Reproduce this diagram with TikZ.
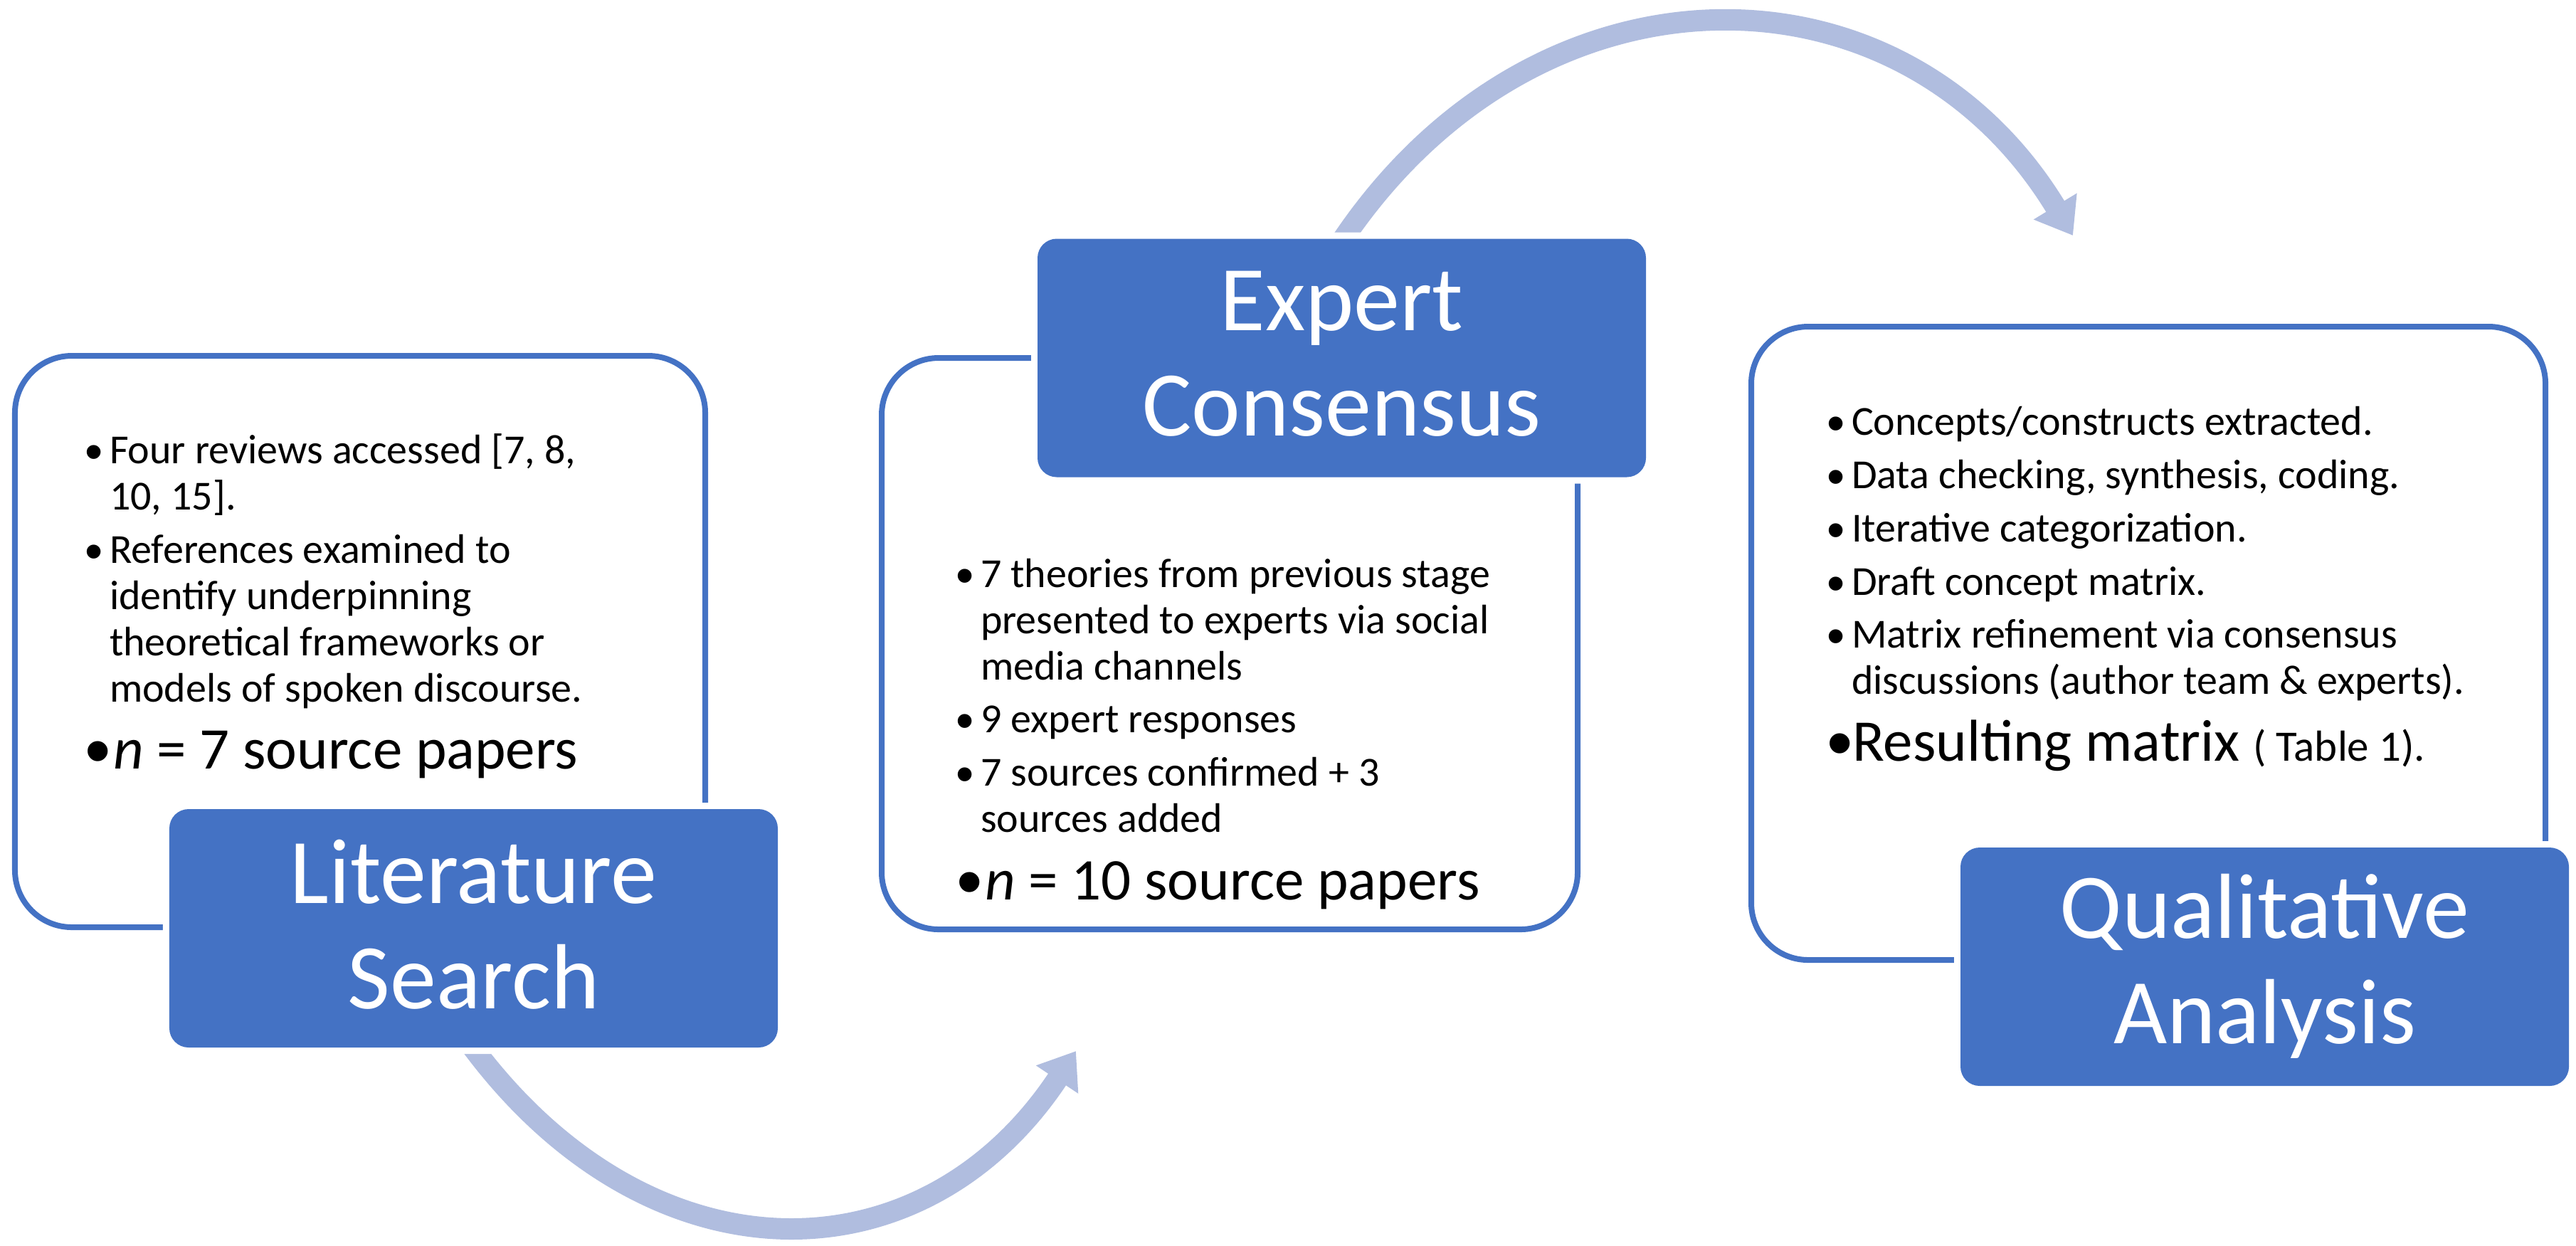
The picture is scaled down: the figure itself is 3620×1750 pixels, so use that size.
\documentclass[tikz,border=0pt]{standalone}
\usepackage{fontspec}
\setmainfont{Carlito}
\newfontfamily\bulletfont{Liberation Sans}
\usetikzlibrary{arrows.meta}
\definecolor{accblue}{RGB}{68,114,196}
\definecolor{arcblue}{RGB}{176,189,223}
\newcommand\lstack[2]{\vtop{\baselineskip=#1\lineskiplimit=-1000pt\lineskip=0pt\halign{##\hfil\cr#2\crcr}}}
\newcommand\cstack[2]{\vtop{\baselineskip=#1\lineskiplimit=-1000pt\lineskip=0pt\halign{\hfil##\hfil\cr#2\crcr}}}
\newcommand\bodyfont{\fontsize{11.6pt}{13pt}\selectfont}
\newcommand\bigfont{\fontsize{16.6pt}{20pt}\selectfont}
\newcommand\titlefont{\fontsize{26pt}{29.6pt}\selectfont}
\newcommand\smallbul{\raisebox{-1.7pt}{\bulletfont\fontsize{14.4pt}{15pt}\selectfont •}}
\newcommand\bigbul[1]{\makebox[#1][l]{\raisebox{-2pt}{\bulletfont\fontsize{20.8pt}{22pt}\selectfont •}}}
\newcommand\bul[1]{\hbox{\makebox[7pt][l]{\smallbul}\lstack{13pt}{#1}}}
\tikzset{
  panel/.style={draw=accblue, fill=white, line width=1.6pt, rounded corners=16pt, inner sep=0pt},
  stagebox/.style={fill=accblue, rounded corners=5.4pt, inner sep=0pt,
    minimum width=171pt, minimum height=67pt,
    preaction={draw=white, line width=3.6pt}},
  flowarc/.style={draw=arcblue, line width=6pt, -{Triangle[width=13.6pt,length=9.6pt]}},
  txt/.style={anchor=base west, inner sep=0pt, text=black},
  ttl/.style={anchor=base, inner sep=0pt, text=white},
}
\begin{document}
\begin{tikzpicture}[x=0.2pt,y=-0.2pt]
\useasboundingbox (0,0) rectangle (3620,1750);
% panels
\node[panel, minimum width=194pt, minimum height=160.6pt] (lp) at (506,901.5) {};
\node[panel, minimum width=195.6pt, minimum height=160.6pt] (mp) at (1728,904.5) {};
\node[panel, minimum width=223.2pt, minimum height=178pt] (rp) at (3019,904) {};
% arcs
\coordinate (s1) at (1878,350);
\coordinate (e1) at (2913,331);
\coordinate (s2) at (657,1462);
\coordinate (e2) at (1512,1477);
\draw[flowarc] (s1) .. controls (2150,-69.5) and (2670,-69.5) .. (e1);
\draw[flowarc] (s2) .. controls (907,1806) and (1294,1806) .. (e2);
% stage boxes
\node[stagebox] (lit) at (665.5,1304.5) {};
\node[stagebox] (exp) at (1885.5,503) {};
\node[stagebox] (qual) at (3182.5,1358.5) {};
% titles
\node[ttl] (litt) at (665.5,1269) {\titlefont\cstack{29.6pt}{Literature\cr Search}};
\node[ttl] (expt) at (1885.5,464.5) {\titlefont\cstack{29.6pt}{Expert\cr Consensus}};
\node[ttl] (qualt) at (3182.5,1318) {\titlefont\cstack{29.6pt}{Qualitative\cr Analysis}};
% left text
\node[txt] (l1) at (118,651) {\bodyfont\bul{Four reviews accessed [7, 8,\cr 10, 15].}};
\node[txt] (l2) at (118,791) {\bodyfont\bul{References examined to\cr identify underpinning\cr theoretical frameworks or\cr models of spoken discourse.}};
\node[txt] (l3) at (118,1080) {\bigfont\bigbul{8pt}\textit{n} = 7 source papers};
% middle text
\node[txt] (m1) at (1342,825) {\bodyfont\bul{7 theories from previous stage\cr presented to experts via social\cr media channels}};
\node[txt] (m2) at (1342,1029) {\bodyfont\bul{9 expert responses}};
\node[txt] (m3) at (1342,1104) {\bodyfont\bul{7 sources confirmed + 3\cr sources added}};
\node[txt] (m4) at (1343,1264) {\bigfont\bigbul{8pt}\textit{n} = 10 source papers};
% right text
\node[txt] (r1) at (2566,611) {\bodyfont\bul{Concepts/constructs extracted.}};
\node[txt] (r2) at (2566,686) {\bodyfont\bul{Data checking, synthesis, coding.}};
\node[txt] (r3) at (2566,761) {\bodyfont\bul{Iterative categorization.}};
\node[txt] (r4) at (2566,836) {\bodyfont\bul{Draft concept matrix.}};
\node[txt] (r5) at (2566,910) {\bodyfont\bul{Matrix refinement via consensus\cr discussions (author team \& experts).}};
\node[txt] (r6) at (2566,1069) {\bigfont\bigbul{7.2pt}Resulting matrix {\fontsize{12.2pt}{14pt}\selectfont ( Table 1).}};
\end{tikzpicture}
\end{document}
